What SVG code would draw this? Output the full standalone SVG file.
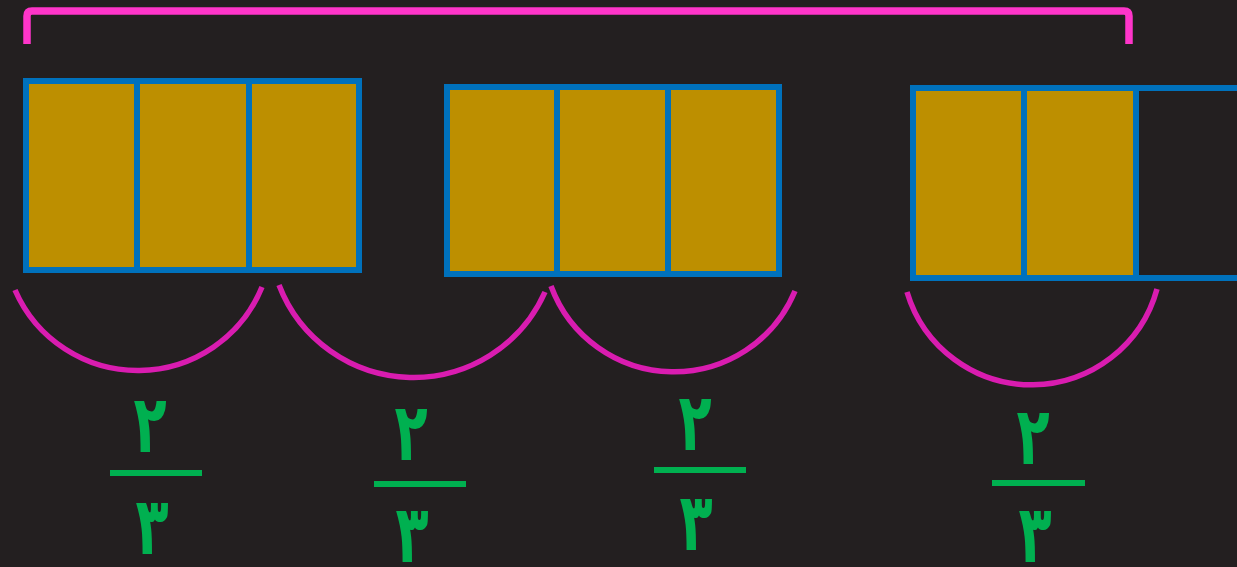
<svg xmlns="http://www.w3.org/2000/svg" width="1237" height="567" viewBox="0 0 1237 567">
<style>
.cell{fill:#bd8f00;stroke:#0071bc;stroke-width:6}
.empty{fill:none;stroke:#0071bc;stroke-width:6}
.arc{fill:none;stroke:#d91cb0;stroke-width:5.5}
.bar{stroke:#00b050;stroke-width:6}
.num{font-family:"DejaVu Sans",sans-serif;font-weight:bold;font-size:80px;fill:#00b050;text-anchor:middle}
</style>
<rect width="1237" height="567" fill="#231f20"/>
<g id="bracket">
<path d="M27,44 V16 Q27,11 32,11 H1124 Q1129,11 1129,16 V44" fill="none" stroke="#fe35c9" stroke-width="7.5"/>
</g>
<g id="group1">
<rect class="cell" x="26" y="81" width="111" height="189"/>
<rect class="cell" x="137" y="81" width="112" height="189"/>
<rect class="cell" x="249" y="81" width="110" height="189"/>
</g>
<g id="group2">
<rect class="cell" x="447" y="87" width="110" height="187"/>
<rect class="cell" x="557" y="87" width="111" height="187"/>
<rect class="cell" x="668" y="87" width="111" height="187"/>
</g>
<g id="group3">
<rect class="cell" x="913" y="88" width="111" height="190"/>
<rect class="cell" x="1024" y="88" width="112" height="190"/>
<rect class="empty" x="1136" y="88" width="112" height="190"/>
</g>
<g id="connectors">
<path class="arc" d="M15,290 A134,134 0 0 0 262,287"/>
<path class="arc" d="M279,285 A144,144 0 0 0 545,292"/>
<path class="arc" d="M551,286 A131,131 0 0 0 795,291"/>
<path class="arc" d="M907,292 A130,130 0 0 0 1157,289"/>
</g>
<g id="fraction1">
<text class="num" transform="translate(150,452) scale(0.68,1)">۲</text>
<line class="bar" x1="110" y1="473" x2="202" y2="473"/>
<text class="num" transform="translate(152,554) scale(0.68,1)">۳</text>
</g>
<g id="fraction2">
<text class="num" transform="translate(411,460) scale(0.68,1)">۲</text>
<line class="bar" x1="374" y1="484" x2="466" y2="484"/>
<text class="num" transform="translate(412,562) scale(0.68,1)">۳</text>
</g>
<g id="fraction3">
<text class="num" transform="translate(695,450) scale(0.68,1)">۲</text>
<line class="bar" x1="654" y1="470" x2="746" y2="470"/>
<text class="num" transform="translate(696,550) scale(0.68,1)">۳</text>
</g>
<g id="fraction4">
<text class="num" transform="translate(1033,464) scale(0.68,1)">۲</text>
<line class="bar" x1="992" y1="483" x2="1085" y2="483"/>
<text class="num" transform="translate(1035,562) scale(0.68,1)">۳</text>
</g>
</svg>
